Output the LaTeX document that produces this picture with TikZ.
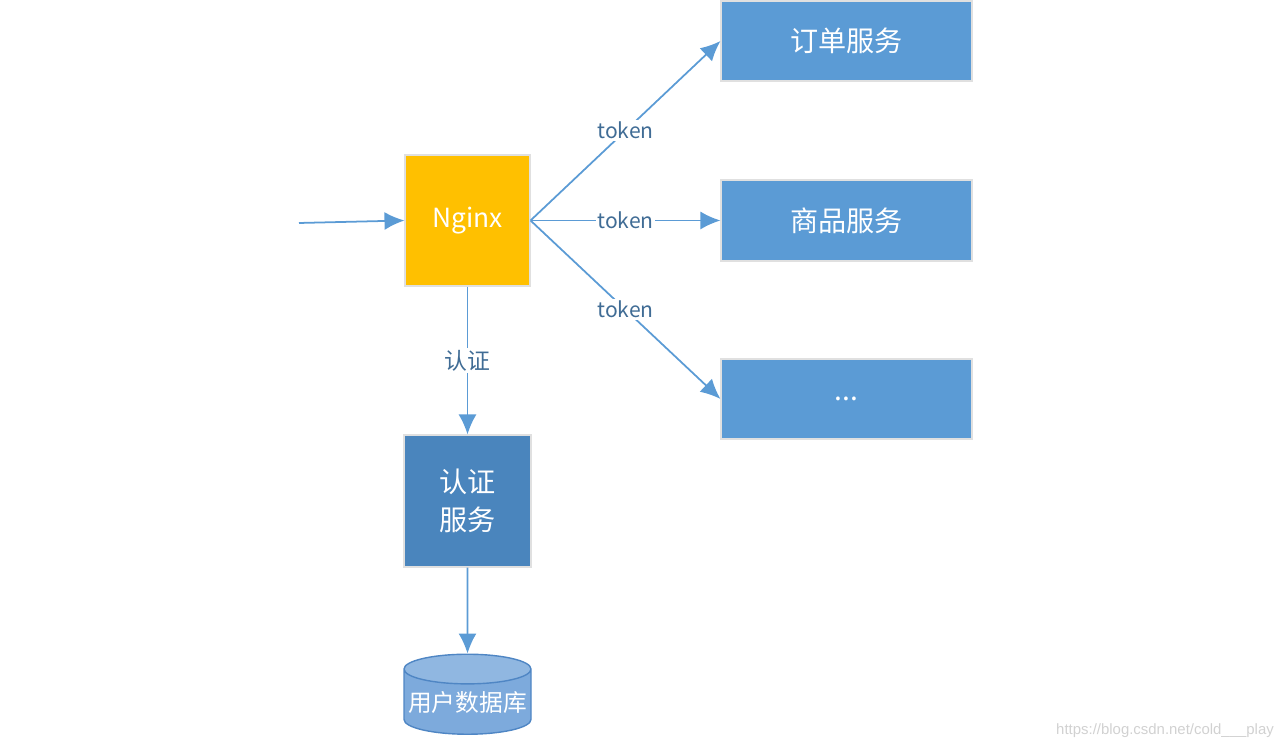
\documentclass[tikz,border=0pt]{standalone}
\usepackage{fontspec}
\setmainfont{Noto Sans CJK SC}
\newfontfamily\markfont{Liberation Sans}
\usepackage{tikz}
\usetikzlibrary{arrows.meta,shapes.geometric}

\definecolor{gateyellow}{HTML}{FFC000}
\definecolor{svcblue}{HTML}{5B9BD5}
\definecolor{authblue}{HTML}{4A85BD}
\definecolor{dbblue}{HTML}{7DAADC}
\definecolor{dbedge}{HTML}{4F86C4}

\begin{document}
\begin{tikzpicture}[
  box/.style={draw=black!12,line width=0.6pt,text=white,font=\fontsize{16}{22}\selectfont,align=center,inner sep=0pt},
  flow/.style={draw=svcblue,line width=1pt,-{Latex[length=0.4cm,width=0.36cm]}},
  tag/.style={fill=white,text=svcblue!70!black,font=\fontsize{12}{14}\selectfont,inner sep=1pt}
]

  % frame
  \useasboundingbox (0,0) rectangle (25.76,14.96);

  % gateway
  \node[box,fill=gateyellow,minimum width=2.5cm,minimum height=2.62cm,font=\fontsize{15}{18}\selectfont] (nginx) at (9.35,10.55) {Nginx};
  \coordinate (client) at (5.98,10.5);

  % services on the right
  \node[box,fill=svcblue,minimum width=5.02cm,minimum height=1.6cm] (order) at (16.93,14.14) {订单服务};
  \node[box,fill=svcblue,minimum width=5.02cm,minimum height=1.62cm] (goods) at (16.93,10.55) {商品服务};
  \node[box,fill=svcblue,minimum width=5.02cm,minimum height=1.6cm] (more) at (16.93,6.98) {...};

  % auth service
  \node[box,fill=authblue,minimum width=2.54cm,minimum height=2.64cm] (auth) at (9.35,4.94) {认证\\服务};

  % user database
  \node[cylinder,shape border rotate=90,aspect=0.25,draw=dbedge,line width=0.8pt,
        cylinder uses custom fill,cylinder body fill=dbblue,cylinder end fill=dbblue!85!white,
        minimum width=2.54cm,minimum height=1.6cm,inner sep=0pt,text=white,
        font=\fontsize{13.5}{16}\selectfont] (userdb) at (9.35,0.92) {用户数据库};

  % connectors
  \draw[flow] (client) -- (nginx.west);
  \draw[flow] (nginx.east) -- node[tag] {token} (order.west);
  \draw[flow] (nginx.east) -- node[tag] {token} (goods.west);
  \draw[flow] (nginx.east) -- node[tag] {token} (more.west);
  \draw[flow] (nginx.south) -- node[tag,font=\fontsize{13}{15}\selectfont] {认证} (auth.north);
  \draw[flow] (auth.south) -- (userdb.north);

  % watermark
  \node[text=black!18,font=\markfont\fontsize{8.5}{10}\selectfont,anchor=east] (mark) at (25.6,0.34) {https://blog.csdn.net/cold\_\_\_play};

\end{tikzpicture}
\end{document}
